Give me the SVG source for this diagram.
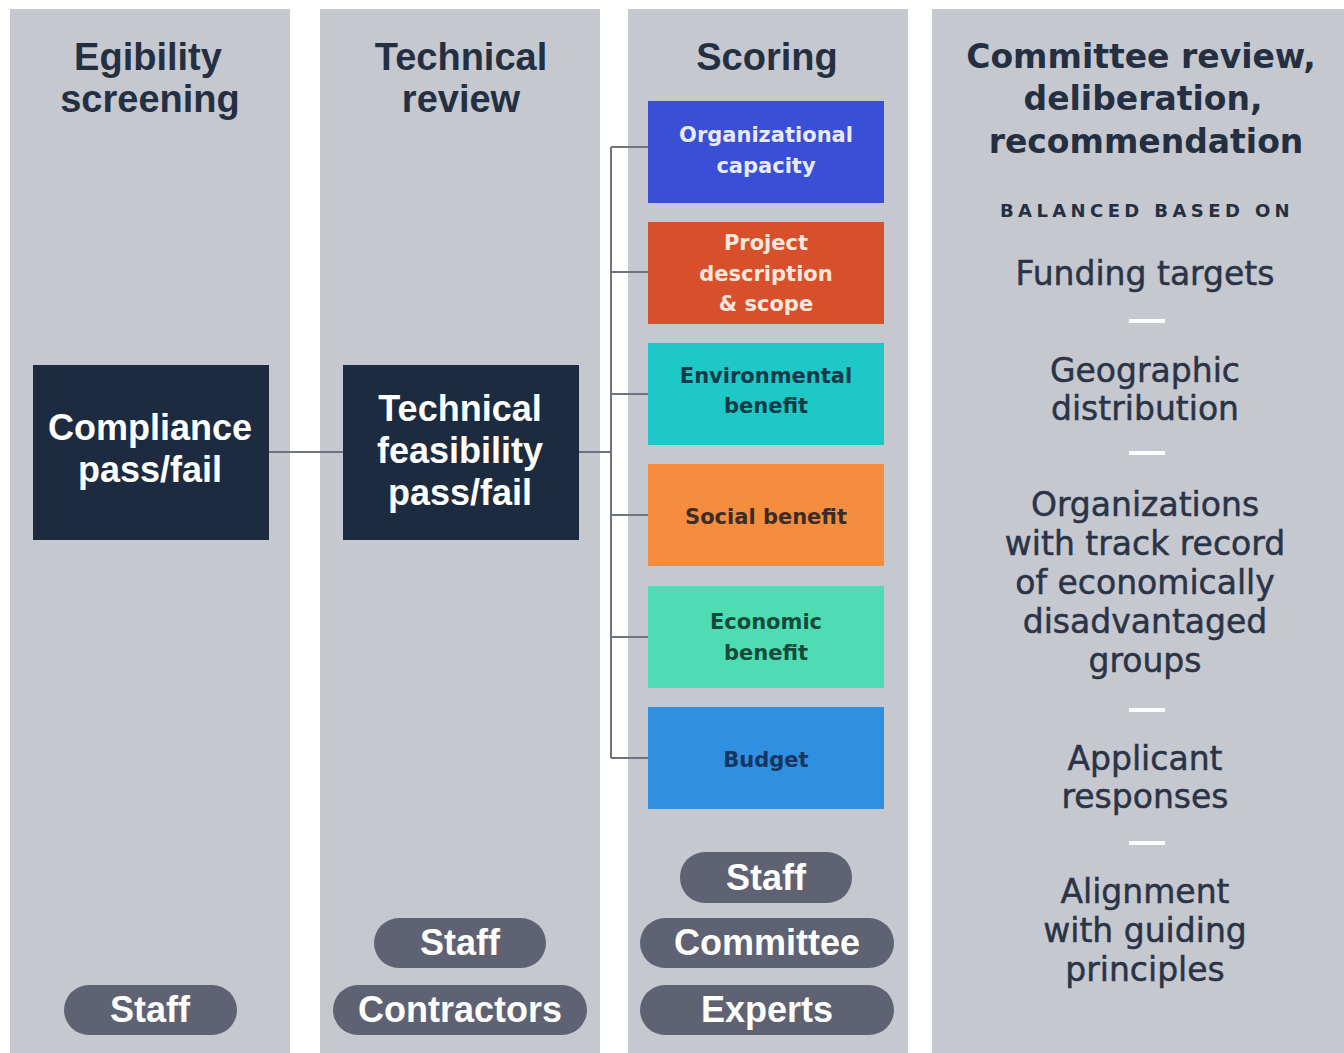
<svg xmlns="http://www.w3.org/2000/svg" width="1344" height="1053" viewBox="0 0 1344 1053">
<style>
.col{fill:#c6c8d0}
.hdr{font-family:"Liberation Sans",Arial,sans-serif;font-weight:bold;font-size:38px;fill:#243042;text-anchor:middle}
.dark{fill:#1c2b3f}
.dt{font-family:"Liberation Sans",Arial,sans-serif;font-weight:bold;font-size:36px;fill:#ffffff;text-anchor:middle}
.st{font-family:"DejaVu Sans",sans-serif;font-weight:bold;font-size:21px;text-anchor:middle}
.pill{fill:#5e6272}
.pt{font-family:"Liberation Sans",Arial,sans-serif;font-weight:bold;font-size:36px;fill:#ffffff;text-anchor:middle}
.c4h{font-family:"DejaVu Sans",sans-serif;font-weight:bold;font-size:33px;fill:#243042;text-anchor:middle}
.c4s{font-family:"DejaVu Sans",sans-serif;font-weight:bold;font-size:18px;letter-spacing:4.4px;fill:#243042;text-anchor:middle}
.c4t{font-family:"DejaVu Sans",sans-serif;font-size:33px;fill:#2b3446;stroke:#2b3446;stroke-width:0.5;text-anchor:middle}
.dash{stroke:#ffffff;stroke-width:4}
.conn{stroke:#6f7380;stroke-width:2;fill:none}
</style>
<rect width="1344" height="1053" fill="#ffffff"/>
<g id="columns">
<rect class="col" x="10" y="9" width="280" height="1044"/>
<rect class="col" x="320" y="9" width="280" height="1044"/>
<rect class="col" x="628" y="9" width="280" height="1044"/>
<rect class="col" x="932" y="9" width="412" height="1044"/>
</g>
<g id="headers">
<text class="hdr" x="148" y="70">Egibility</text>
<text class="hdr" x="150" y="112">screening</text>
<text class="hdr" x="461" y="70">Technical</text>
<text class="hdr" x="461" y="112">review</text>
<text class="hdr" x="767" y="70">Scoring</text>
</g>
<g id="connectors">
<path class="conn" d="M269 452H343"/>
<path class="conn" d="M579 452H611"/>
<path class="conn" d="M611 147V758"/>
<path class="conn" d="M611 147H648M611 272H648M611 394H648M611 515H648M611 637H648M611 758H648"/>
</g>
<g id="compliance">
<rect class="dark" x="33" y="365" width="236" height="175"/>
<text class="dt" x="150" y="440">Compliance</text>
<text class="dt" x="150" y="482">pass/fail</text>
</g>
<g id="technical-feasibility">
<rect class="dark" x="343" y="365" width="236" height="175"/>
<text class="dt" x="460" y="421">Technical</text>
<text class="dt" x="460" y="463">feasibility</text>
<text class="dt" x="460" y="505">pass/fail</text>
</g>
<g id="organizational-capacity">
<rect x="648" y="101" width="236" height="102" fill="#3a4fd6"/>
<text class="st" x="766" y="142" fill="#e8eaff">Organizational</text>
<text class="st" x="766" y="173" fill="#e8eaff">capacity</text>
</g>
<g id="project-description">
<rect x="648" y="222" width="236" height="102" fill="#d7502b"/>
<text class="st" x="766" y="250" fill="#fde6dc">Project</text>
<text class="st" x="766" y="281" fill="#fde6dc">description</text>
<text class="st" x="766" y="311" fill="#fde6dc">&amp; scope</text>
</g>
<g id="environmental-benefit">
<rect x="648" y="343" width="236" height="102" fill="#1ec8c6"/>
<text class="st" x="766" y="383" fill="#0f3b48">Environmental</text>
<text class="st" x="766" y="413" fill="#0f3b48">benefit</text>
</g>
<g id="social-benefit">
<rect x="648" y="464" width="236" height="102" fill="#f68c3e"/>
<text class="st" x="766" y="524" fill="#3b2c24">Social benefit</text>
</g>
<g id="economic-benefit">
<rect x="648" y="586" width="236" height="102" fill="#4fdcb2"/>
<text class="st" x="766" y="629" fill="#134a3c">Economic</text>
<text class="st" x="766" y="660" fill="#134a3c">benefit</text>
</g>
<g id="budget">
<rect x="648" y="707" width="236" height="102" fill="#2f8fe0"/>
<text class="st" x="766" y="767" fill="#143660">Budget</text>
</g>
<g id="pills">
<g id="pill-staff-1"><rect class="pill" x="64" y="985" width="173" height="50" rx="25"/><text class="pt" x="150" y="1022">Staff</text></g>
<g id="pill-staff-2"><rect class="pill" x="374" y="918" width="172" height="50" rx="25"/><text class="pt" x="460" y="955">Staff</text></g>
<g id="pill-contractors"><rect class="pill" x="333" y="985" width="254" height="50" rx="25"/><text class="pt" x="460" y="1022">Contractors</text></g>
<g id="pill-staff-3"><rect class="pill" x="680" y="852" width="172" height="51" rx="25"/><text class="pt" x="766" y="890">Staff</text></g>
<g id="pill-committee"><rect class="pill" x="640" y="918" width="254" height="50" rx="25"/><text class="pt" x="767" y="955">Committee</text></g>
<g id="pill-experts"><rect class="pill" x="640" y="985" width="254" height="50" rx="25"/><text class="pt" x="767" y="1022">Experts</text></g>
</g>
<g id="committee-review">
<text class="c4h" x="1141" y="68">Committee review,</text>
<text class="c4h" x="1143" y="110">deliberation,</text>
<text class="c4h" x="1146" y="153">recommendation</text>
<text class="c4s" x="1147" y="217">BALANCED BASED ON</text>
<text class="c4t" x="1145" y="285">Funding targets</text>
<line class="dash" x1="1129" y1="321" x2="1165" y2="321"/>
<text class="c4t" x="1145" y="382">Geographic</text>
<text class="c4t" x="1145" y="420">distribution</text>
<line class="dash" x1="1129" y1="453" x2="1165" y2="453"/>
<text class="c4t" x="1145" y="516">Organizations</text>
<text class="c4t" x="1145" y="555">with track record</text>
<text class="c4t" x="1145" y="594">of economically</text>
<text class="c4t" x="1145" y="633">disadvantaged</text>
<text class="c4t" x="1145" y="672">groups</text>
<line class="dash" x1="1129" y1="710" x2="1165" y2="710"/>
<text class="c4t" x="1145" y="770">Applicant</text>
<text class="c4t" x="1145" y="808">responses</text>
<line class="dash" x1="1129" y1="843" x2="1165" y2="843"/>
<text class="c4t" x="1145" y="903">Alignment</text>
<text class="c4t" x="1145" y="942">with guiding</text>
<text class="c4t" x="1145" y="981">principles</text>
</g>
</svg>
